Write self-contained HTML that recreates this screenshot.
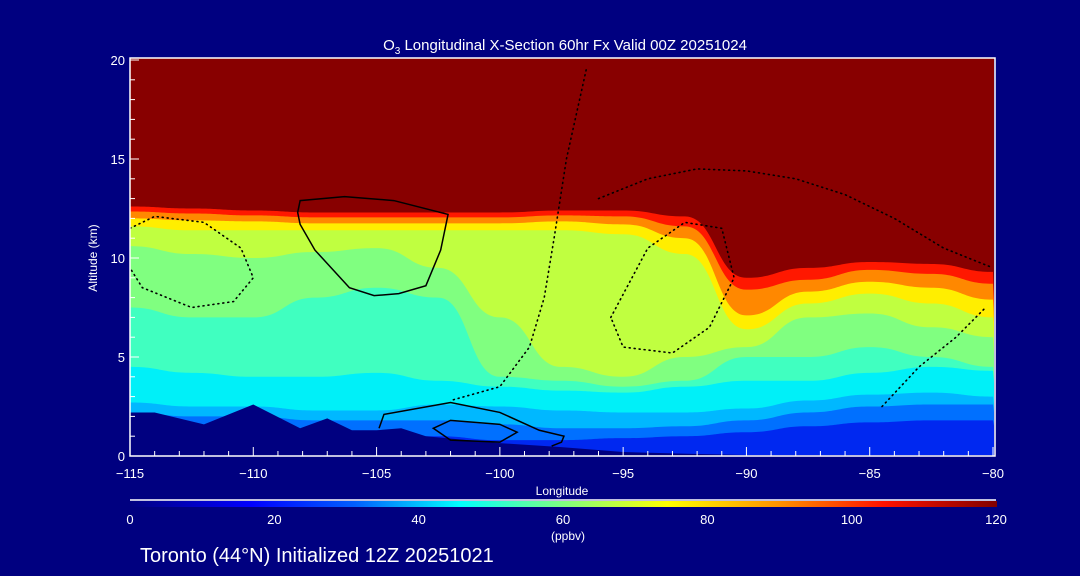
<!DOCTYPE html>
<html><head><meta charset="utf-8"><style>
html,body{margin:0;padding:0;background:#000080;}
svg{display:block;font-family:"Liberation Sans",sans-serif;}
</style></head><body>
<svg id="chart" width="1080" height="576" viewBox="0 0 1080 576" xmlns="http://www.w3.org/2000/svg">
<defs>
<linearGradient id="cbar" x1="0" x2="1" y1="0" y2="0">
<stop offset="0" stop-color="#000080"/><stop offset="0.14" stop-color="#0000ff"/>
<stop offset="0.26" stop-color="#0060ff"/><stop offset="0.38" stop-color="#00ffff"/>
<stop offset="0.5" stop-color="#80ff80"/><stop offset="0.62" stop-color="#ffff00"/>
<stop offset="0.75" stop-color="#ff9000"/><stop offset="0.87" stop-color="#ff1000"/>
<stop offset="1" stop-color="#800000"/></linearGradient>
<clipPath id="plotclip"><rect x="130" y="58" width="864" height="398"/></clipPath>
</defs>
<g id="field" clip-path="url(#plotclip)"></g>
<g id="contours" clip-path="url(#plotclip)"></g>
<g id="axes"></g>
<text x="565" y="50" fill="#fff" font-size="15" text-anchor="middle">O<tspan font-size="10" dy="4">3</tspan><tspan dy="-4"> Longitudinal X-Section 60hr  Fx Valid 00Z 20251024</tspan></text>
<text x="562" y="495" fill="#fff" font-size="12" text-anchor="middle">Longitude</text>
<text x="97" y="258" fill="#fff" font-size="12" text-anchor="middle" transform="rotate(-90 97 258)">Altitude (km)</text>
<line x1="130" y1="500" x2="996" y2="500" stroke="#fff" stroke-width="1.5"/>
<rect x="130" y="501" width="867" height="6" fill="url(#cbar)"/>
<text x="568" y="540" fill="#fff" font-size="12" text-anchor="middle">(ppbv)</text>
<g id="cbticks"></g>
<text x="140" y="562" fill="#fff" font-size="20">Toronto (44°N) Initialized 12Z 20251021</text>
</svg>
<script>
const lons=[-115,-112.5,-110,-107.5,-105,-102.5,-100,-97.5,-95,-92.5,-90,-87.5,-85,-82.5,-80];
const bandColors=["#ff1800","#ff8800","#ffee00","#c0ff40","#80ff80","#40ffc0","#00f0f8","#00b8ff","#0070ff","#0028f0"];
const topRed=[12.6,12.5,12.4,12.3,12.3,12.3,12.3,12.4,12.4,12.1,9.0,9.5,9.8,9.7,9.3];
const topOrange=[12.35,12.25,12.15,12.05,12.05,12.05,12.05,12.15,12.1,11.6,8.4,8.9,9.4,9.2,8.7];
const topYellow=[12.0,11.9,11.85,11.75,11.75,11.75,11.75,11.85,11.7,11.0,7.1,8.3,8.8,8.5,7.9];
const topYellowGreen=[11.6,11.4,11.4,11.4,11.4,11.4,11.4,11.4,11.2,10.2,6.4,7.7,8.2,7.7,7.0];
const topGreen=[10.6,10.2,10.0,10.3,10.5,9.5,7.0,4.5,4.0,5.0,5.5,7.0,7.2,6.5,6.0];
const topAqua=[7.5,7.0,7.0,8.0,8.5,8.0,4.0,3.8,3.5,3.8,5.0,5.0,5.5,5.0,4.5];
const topCyan=[4.5,4.2,4.0,4.0,4.2,3.8,3.5,3.3,3.2,3.5,3.8,3.8,4.2,4.5,4.3];
const topLightBlue=[2.7,2.5,2.5,2.3,2.3,2.6,2.5,2.3,2.2,2.2,2.4,2.8,3.1,3.2,3.0];
const topBlue=[2.2,2.0,2.0,1.8,1.8,1.8,1.6,1.4,1.4,1.5,1.8,2.2,2.5,2.6,2.6];
const topDeepBlue=[1.0,1.0,1.0,1.0,1.0,1.0,0.8,0.8,0.9,1.0,1.2,1.5,1.7,1.8,1.8];
const terrainLons=[-115,-114,-112,-110,-108.1,-107,-106,-105,-104,-103,-100,-97.5,-95,-92,-90,-80];
const terrainAlt=[2.2,2.2,1.6,2.6,1.4,1.9,1.3,1.3,1.4,1.0,0.65,0.45,0.2,0.1,0.05,0.05];
const loop1Lon=[-108.2,-108.1,-106.3,-104.3,-102.1,-102.4,-103.0,-104.1,-105.1,-106.1,-107.5,-108.1];
const loop1Alt=[12.3,12.9,13.1,12.9,12.2,10.4,8.6,8.2,8.1,8.5,10.4,11.7];
const loop2Lon=[-102.7,-102.0,-100.0,-99.3,-100.0,-102.0];
const loop2Alt=[1.4,1.8,1.6,1.2,0.7,0.8];
const line3Lon=[-104.9,-104.7,-102,-100,-98.4,-97.4,-97.5,-97.9];
const line3Alt=[1.4,2.1,2.7,2.2,1.3,1.0,0.7,0.5];
const dotALon=[-115,-114,-112,-110.5,-110,-110.8,-112.5,-114.5,-115];
const dotAAlt=[11.5,12.1,11.8,10.5,9,7.8,7.5,8.5,9.5];
const dotBLon=[-96.5,-97.3,-97.8,-98.2,-98.8,-100,-102];
const dotBAlt=[19.5,15,11,8,5.5,3.5,2.8];
const dotCLon=[-95.5,-94,-92.5,-91,-90.5,-91.5,-93,-95,-95.5];
const dotCAlt=[7,10.5,11.8,11.5,9,6.5,5.2,5.5,7];
const dotDLon=[-84.5,-83,-81.5,-80.3];
const dotDAlt=[2.5,4.5,6,7.5];
const dotELon=[-96,-94,-92,-90,-88,-86,-84,-82,-80];
const dotEAlt=[13,14,14.5,14.4,14,13.2,12,10.5,9.5];
const xTicks=[-115,-110,-105,-100,-95,-90,-85,-80];
const yTicks=[0,5,10,15,20];
const cbLabels=[0,20,40,60,80,100,120];

const NS="http://www.w3.org/2000/svg";
const X0=130,X1=993,Y0=456,Y1=60;
const xs=l=>X0+(l+115)/35*(X1-X0);
const ys=a=>Y0-a/20*(Y0-Y1);
function mk(tag,attrs,parent){const e=document.createElementNS(NS,tag);for(const k in attrs)e.setAttribute(k,attrs[k]);parent.appendChild(e);return e;}
const field=document.getElementById('field');
const bg=mk('rect',{x:130,y:58,width:864,height:398,fill:'#880000'},field);


const bands=[topRed,topOrange,topYellow,topYellowGreen,topGreen,topAqua,topCyan,topLightBlue,topBlue,topDeepBlue];
function smooth(pts){let d='M'+pts[0][0]+','+pts[0][1];for(let i=1;i<pts.length;i++){const p=pts[i-1],q=pts[i];const mx=(p[0]+q[0])/2;d+=' C'+mx+','+p[1]+' '+mx+','+q[1]+' '+q[0]+','+q[1];}return d;}
bands.forEach((arr,i)=>{
  const pts=lons.map((l,j)=>[xs(l),ys(arr[j])]);
  const d=smooth(pts)+' L1000,'+(Y0+2)+' L120,'+(Y0+2)+' Z';
  const p=mk('path',{d:d,fill:bandColors[i]},field);
  
  
});
const tpts=terrainLons.map((l,j)=>[xs(l),ys(terrainAlt[j])]);
let td='M'+tpts.map(p=>p.join(',')).join(' L')+' L1000,460 L120,460 Z';
const terr=mk('path',{d:td,fill:'#000080'},field);



const cg=document.getElementById('contours');
function line(lo,al,closed,dotted,name){
  let d='M'+lo.map((l,j)=>xs(l)+','+ys(al[j])).join(' L')+(closed?' Z':'');
  const a={d:d,fill:'none',stroke:'#000','stroke-width':dotted?1.6:1.5};
  if(dotted){a['stroke-dasharray']='1 4';a['stroke-linecap']='round';}
  const p=mk('path',a,cg);
  
  
}
line(loop1Lon,loop1Alt,true,false,'zero-contour-upper');
line(loop2Lon,loop2Alt,true,false,'zero-contour-lower-loop');
line(line3Lon,line3Alt,false,false,'zero-contour-lower');
line(dotALon,dotAAlt,false,true,'minus10-contour-west');
line(dotBLon,dotBAlt,false,true,'minus10-contour-central');
line(dotCLon,dotCAlt,true,true,'minus20-contour');
line(dotDLon,dotDAlt,false,true,'minus10-contour-east');
line(dotELon,dotEAlt,false,true,'minus20-contour-upper');

const ax=document.getElementById('axes');
const frame=mk('rect',{x:130,y:58,width:865,height:398,fill:'none',stroke:'#fff','stroke-width':1.5},ax);


for(let l=-115;l<=-80;l++){
  const major=xTicks.includes(l);
  const t=mk('line',{x1:xs(l),x2:xs(l),y1:Y0,y2:Y0-(major?9:5),stroke:'#fff','stroke-width':1},ax);
  
  
}
xTicks.forEach(l=>{
  const t=mk('text',{x:xs(l),y:478,fill:'#fff','font-size':13,'text-anchor':'middle'},ax);
  t.textContent=(l<0?'\u2212'+(-l):l);
  
  
});
for(let a=0;a<=20;a++){
  const major=yTicks.includes(a);
  const t=mk('line',{x1:X0,x2:X0+(major?9:5),y1:ys(a),y2:ys(a),stroke:'#fff','stroke-width':1},ax);
  
  
}
yTicks.forEach(a=>{
  const t=mk('text',{x:125,y:ys(a)+5,fill:'#fff','font-size':13,'text-anchor':'end'},ax);
  t.textContent=a;
  
  
});
const cb=document.getElementById('cbticks');
cbLabels.forEach(v=>{
  const t=mk('text',{x:130+v/120*866,y:524,fill:'#fff','font-size':13,'text-anchor':'middle'},cb);
  t.textContent=v;
  
  
});
</script>
</body></html>
